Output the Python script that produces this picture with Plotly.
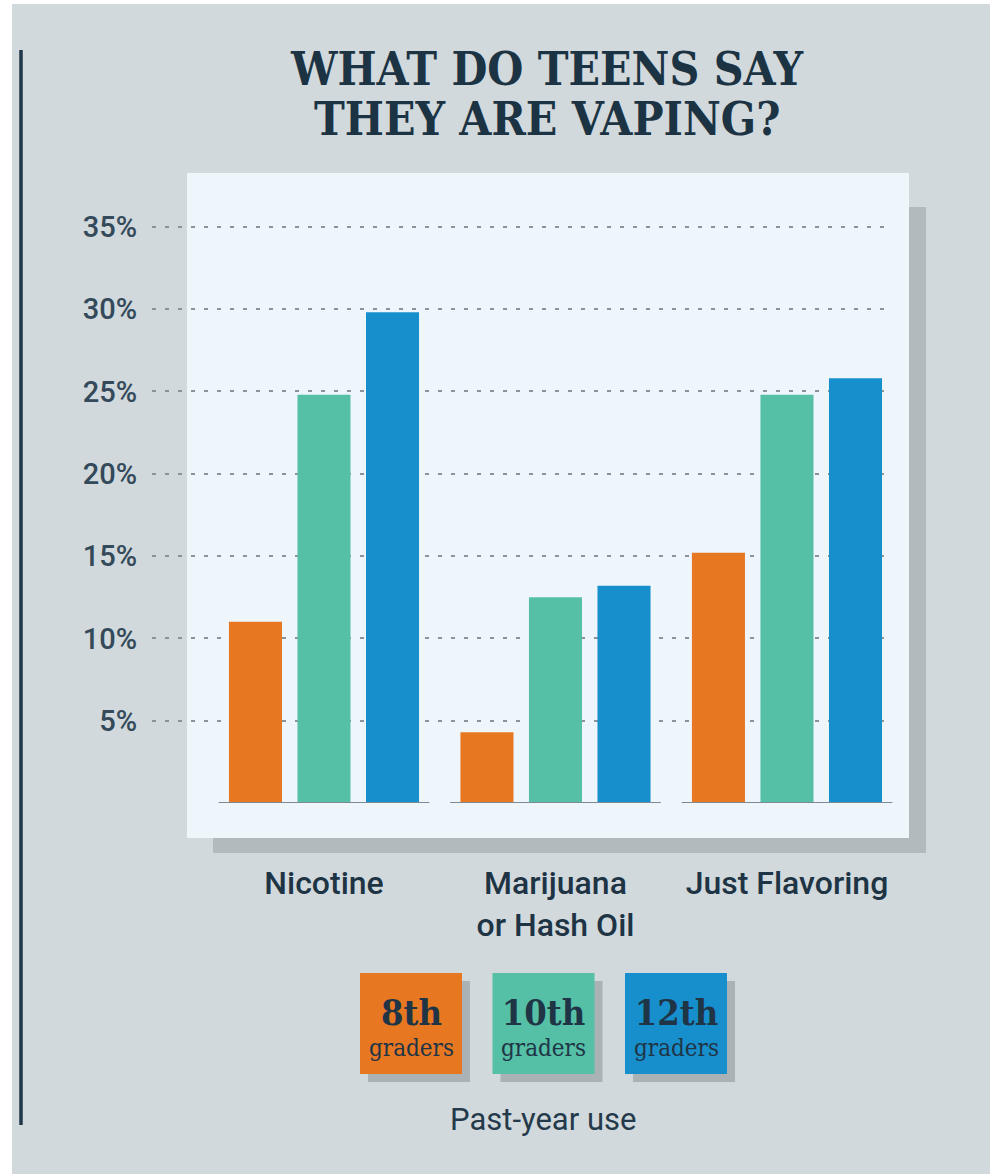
import plotly.graph_objects as go

# ---- data ----
categories = ["Nicotine", "Marijuana<br>or Hash Oil", "Just Flavoring"]
series_names = ["8th", "10th", "12th"]
series_sub = ["graders", "graders", "graders"]
values_8th = [11.0, 4.3, 15.2]
values_10th = [24.8, 12.5, 24.8]
values_12th = [29.8, 13.2, 25.8]
y_ticks = [5, 10, 15, 20, 25, 30, 35]
y_ticklabels = [f"{v}%" for v in y_ticks]
title_lines = ["WHAT DO TEENS SAY", "THEY ARE VAPING?"]
legend_caption = "Past-year use"

colors = ["#e87722", "#55c0a6", "#178fcd"]
navy = "#1c3344"
bg = "#d1d9dc"
panel = "#eef5fb"
shadow = "#b3babd"

W, H = 999, 1174
def fx(p): return p / W
def fy(p): return 1 - p / H

SLAB = "DejaVu Serif Condensed, DejaVu Serif, serif"
SANS = "Roboto, Noto Sans, sans-serif"

series_values = [values_8th, values_10th, values_12th]

fig = go.Figure()
for name, vals, col in zip(series_names, series_values, colors):
    fig.add_trace(go.Bar(
        x=list(range(len(categories))), y=vals, name=name,
        marker=dict(color=col, line=dict(width=0)),
        hoverinfo="y",
    ))

shapes = []
# background area
shapes.append(dict(type="rect", xref="paper", yref="paper",
                   x0=fx(12), x1=fx(990), y0=fy(1180), y1=fy(4),
                   fillcolor=bg, line=dict(width=0), layer="below"))
# vertical rule
shapes.append(dict(type="line", xref="paper", yref="paper",
                   x0=fx(21), x1=fx(21), y0=fy(50), y1=fy(1125),
                   line=dict(color="#1f3749", width=3.5), layer="below"))
# panel shadow
shapes.append(dict(type="rect", xref="paper", yref="paper",
                   x0=fx(213), x1=fx(926), y0=fy(853), y1=fy(207),
                   fillcolor=shadow, line=dict(width=0), layer="below"))
# panel
shapes.append(dict(type="rect", xref="paper", yref="paper",
                   x0=fx(187), x1=fx(909), y0=fy(838), y1=fy(173),
                   fillcolor=panel, line=dict(width=0), layer="below"))
# per-group baselines
for i in range(len(categories)):
    shapes.append(dict(type="line", xref="x", yref="y",
                       x0=i - 0.455, x1=i + 0.455, y0=0, y1=0,
                       line=dict(color="#7d8993", width=2), layer="above"))

annotations = []
# title
annotations.append(dict(text=f"<b>{title_lines[0]}</b>", x=fx(546), y=fy(69),
                        xref="paper", yref="paper", xanchor="center", yanchor="middle",
                        showarrow=False, font=dict(family=SLAB, size=46, color=navy)))
annotations.append(dict(text=f"<b>{title_lines[1]}</b>", x=fx(547), y=fy(119),
                        xref="paper", yref="paper", xanchor="center", yanchor="middle",
                        showarrow=False, font=dict(family=SLAB, size=46, color=navy)))

# legend boxes
for i, (nm, sub, col) in enumerate(zip(series_names, series_sub, colors)):
    x0 = 360 + 132.5 * i
    shapes.append(dict(type="rect", xref="paper", yref="paper",
                       x0=fx(x0 + 8), x1=fx(x0 + 110), y0=fy(1082), y1=fy(981),
                       fillcolor="#aab2b6", line=dict(width=0), layer="above"))
    shapes.append(dict(type="rect", xref="paper", yref="paper",
                       x0=fx(x0), x1=fx(x0 + 102), y0=fy(1074), y1=fy(973),
                       fillcolor=col, line=dict(width=0), layer="above"))
    annotations.append(dict(
        text=(f"<span style='font-size:36px'><b>{nm}</b></span><br>"
              f"<span style='font-size:24px'>{sub}</span>"),
        x=fx(x0 + 51), y=fy(1026),
        xref="paper", yref="paper", xanchor="center", yanchor="middle",
        showarrow=False, font=dict(family=SLAB, size=24, color="#1f3546")))

annotations.append(dict(text=legend_caption, x=fx(543), y=fy(1119),
                        xref="paper", yref="paper", xanchor="center", yanchor="middle",
                        showarrow=False, font=dict(family=SANS, size=31, color="#24394a")))

# y axis: 0 at px 803, 35% at px 226.7 ; range extended slightly so the 35% grid line shows
y_top = 36
px_per_unit = (803 - 226.7) / 35
fig.update_layout(
    width=W, height=H, autosize=False,
    margin=dict(l=0, r=0, t=0, b=0, pad=0),
    paper_bgcolor="white", plot_bgcolor="rgba(0,0,0,0)",
    barmode="group", bargap=0.112, bargroupgap=0.226,
    showlegend=False,
    shapes=shapes, annotations=annotations,
    xaxis=dict(domain=[fx(152), fx(893)], range=[-0.743, 2.458],
               tickmode="array", tickvals=list(range(len(categories))), ticktext=categories,
               showgrid=False, zeroline=False, showline=False, ticks="",
               ticklabelstandoff=58,
               tickfont=dict(family=SANS, size=32, color="#1e3445", weight=500)),
    yaxis=dict(domain=[fy(803), fy(803 - y_top * px_per_unit)], range=[0, y_top],
               tickmode="array", tickvals=y_ticks, ticktext=y_ticklabels,
               showgrid=True, gridcolor="#8b9399", gridwidth=2, griddash="4px,9px",
               zeroline=False, showline=False, ticks="",
               ticklabelstandoff=14,
               tickfont=dict(family=SANS, size=29, color="#34495a", weight=500)),
)

fig.write_html("out.html")
